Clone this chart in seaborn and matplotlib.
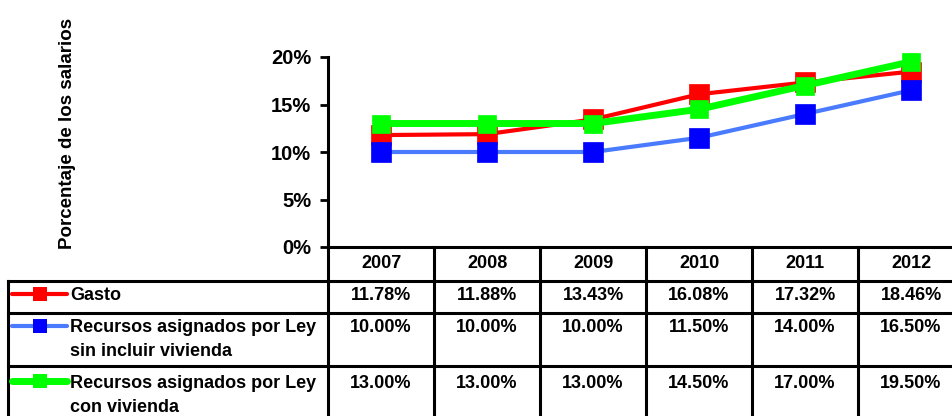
import numpy as np
import pandas as pd
import matplotlib
matplotlib.use("Agg")
import matplotlib.pyplot as plt
import seaborn as sns

# ===== DATA =====
years = [2007, 2008, 2009, 2010, 2011, 2012]
gasto = [11.78, 11.88, 13.43, 16.08, 17.32, 18.46]
sin_vivienda = [10.00, 10.00, 10.00, 11.50, 14.00, 16.50]
con_vivienda = [13.00, 13.00, 13.00, 14.50, 17.00, 19.50]
series_names = [["Gasto"],
                ["Recursos asignados por Ley", "sin incluir vivienda"],
                ["Recursos asignados por Ley", "con vivienda"]]
y_ticks = [0, 5, 10, 15, 20]

# ===== STYLE =====
sns.set_style("white")
plt.rcParams['font.family'] = ['Liberation Sans', 'DejaVu Sans']
plt.rcParams['font.weight'] = 'bold'
plt.rcParams['text.color'] = 'black'
plt.rcParams['ytick.color'] = 'black'

line_colors = ["#FF0000", "#4A7BFF", "#00FF00"]
marker_colors = ["#FF0000", "#0000FF", "#00FF00"]
line_widths = [3.0, 3.0, 5.0]
marker_sizes = [14, 14, 13]

fig = plt.figure(figsize=(9.52, 4.16), dpi=100)
W, H = 952, 416
ax_left, ax_right, ax_top, ax_bottom = 328, 964, 57, 247
ax = fig.add_axes([ax_left / W, 1 - ax_bottom / H,
                   (ax_right - ax_left) / W, (ax_bottom - ax_top) / H])

# ===== LINES =====
all_series = [gasto, sin_vivienda, con_vivienda]
for vals, lc, mc, lw, ms in zip(all_series, line_colors, marker_colors,
                                line_widths, marker_sizes):
    df = pd.DataFrame({"year": years, "value": vals})
    sns.lineplot(data=df, x="year", y="value", ax=ax, color=lc, linewidth=lw,
                 marker="s", markersize=ms, markerfacecolor=mc,
                 markeredgecolor=mc, markeredgewidth=0.5, clip_on=False)

ax.set_xlim(years[0] - 0.5, years[-1] + 0.5)
ax.set_ylim(0, 20)
ax.set_yticks(y_ticks)
ax.set_yticklabels([f"{t}%" for t in y_ticks], fontsize=14.5,
                   fontweight='bold')
ax.set_xticks([])
ax.set_xlabel("")
ax.set_ylabel("")
for s in ["top", "right"]:
    ax.spines[s].set_visible(False)
for s in ["left", "bottom"]:
    ax.spines[s].set_linewidth(2.2)
    ax.spines[s].set_color("black")
ax.tick_params(axis="y", direction="out", length=6, width=2, color="black",
               pad=6, left=True)

fig.text(68 / W, 1 - 133 / H, "Porcentaje de los salarios", rotation=90,
         ha="center", va="center", fontsize=13.5, fontweight="bold")

# ===== DATA TABLE =====
tr = ax.get_xaxis_transform()
px = (ax_bottom - ax_top)
def ay(py):
    return -(py - ax_bottom) / px

unit = (ax_right - ax_left) / len(years)
label_left = years[0] - 0.5 - (ax_left - 8) / unit
row_tops = [281, 313, 366]
row_bottom = 430
kw = dict(transform=tr, clip_on=False, color="black", lw=2.2,
          solid_capstyle="projecting")

for i in range(len(years) + 1):
    xb = years[0] - 0.5 + i
    ax.plot([xb, xb], [0, ay(row_bottom)], **kw)
ax.plot([label_left, label_left], [ay(row_tops[0]), ay(row_bottom)], **kw)
for rt in row_tops:
    ax.plot([label_left, years[-1] + 0.5], [ay(rt), ay(rt)], **kw)

fs = 13
for yr in years:
    ax.text(yr, ay(264), str(yr), transform=tr, ha="center", va="center",
            fontsize=fs, fontweight="bold")

text_y = [296, 328, 383]
line_gap = 24
for r, (name, vals) in enumerate(zip(series_names, all_series)):
    for yr, v in zip(years, vals):
        ax.text(yr, ay(text_y[r]), f"{v:.2f}%", transform=tr, ha="center",
                va="center", fontsize=fs, fontweight="bold")
    x0 = label_left + 4 / unit
    x1 = label_left + 59 / unit
    xm = label_left + 32 / unit
    gy = ay(text_y[r] - 2)
    ax.plot([x0, x1], [gy, gy], transform=tr, clip_on=False,
            color=line_colors[r], lw=line_widths[r], solid_capstyle="round")
    ax.plot([xm], [gy], transform=tr, clip_on=False, marker="s",
            markersize=10, color=marker_colors[r], markeredgewidth=0)
    for k, part in enumerate(name):
        ax.text(label_left + 62 / unit, ay(text_y[r] + k * line_gap), part,
                transform=tr, ha="left", va="center", fontsize=fs,
                fontweight="bold")

fig.savefig("out.png", dpi=100)
